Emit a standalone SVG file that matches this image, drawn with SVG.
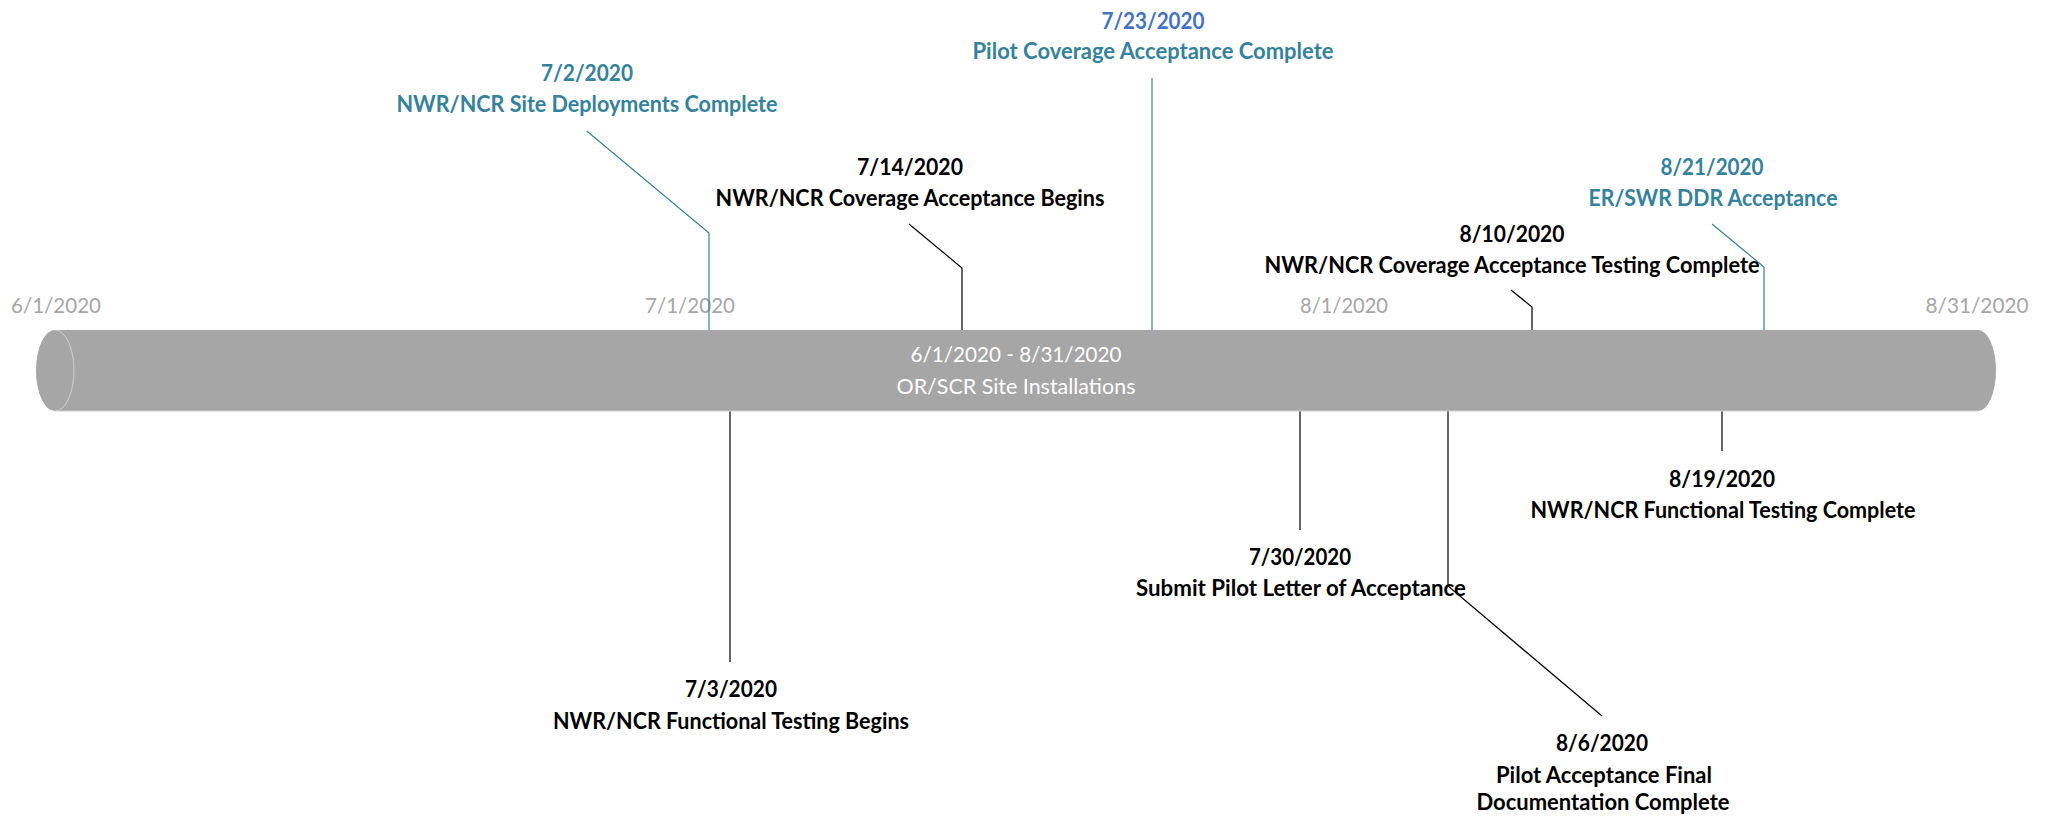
<svg xmlns="http://www.w3.org/2000/svg" width="2046" height="816" viewBox="0 0 2046 816">
<style>
  text { font-family: Lato, "Liberation Sans", sans-serif; text-anchor: middle; }
  .lbl { font-size: 22px; font-weight: bold; fill: #000000; }
  .teal { fill: #34829C; }
  .blue { fill: #4472C4; }
  .axis { font-size: 21.5px; fill: #A6A6A6; }
  .bar { font-size: 21.5px; fill: #FFFFFF; }
  .c { fill: none; stroke-width: 1.2; }
  .k { stroke: #000000; }
  .t { stroke: #34829C; }
  .b { stroke: #4472C4; }
</style>
<rect x="0" y="0" width="2046" height="816" fill="#FFFFFF"/>

<g id="axis-labels">
  <text class="axis" x="56" y="313" textLength="90" lengthAdjust="spacingAndGlyphs">6/1/2020</text>
  <text class="axis" x="690" y="313" textLength="90" lengthAdjust="spacingAndGlyphs">7/1/2020</text>
  <text class="axis" x="1344" y="313" textLength="88" lengthAdjust="spacingAndGlyphs">8/1/2020</text>
  <text class="axis" x="1977" y="313" textLength="103" lengthAdjust="spacingAndGlyphs">8/31/2020</text>
</g>

<g id="connectors">
  <path class="c t" d="M586.7,131 L709,233 L709,370"/>
  <path class="c b" d="M1152,78 L1152,370"/>
  <path class="c k" d="M909,224 L962,268 L962,370"/>
  <path class="c t" d="M1712,224 L1764,267 L1764,370"/>
  <path class="c k" d="M1511,290 L1532,307 L1532,370"/>
  <path class="c k" d="M730,370 L730,662"/>
  <path class="c k" d="M1300,370 L1300,530"/>
  <path class="c k" d="M1448,370 L1448,586 L1602,716"/>
  <path class="c k" d="M1722,370 L1722,451"/>
</g>

<g id="bar">
  <path d="M55,330 L1978,330 A18,40.5 0 0 1 1978,411 L55,411 A19,40.5 0 0 1 55,330 Z" fill="#A6A6A6"/>
  <line x1="55" y1="411" x2="1978" y2="411" stroke="#CFCFCF" stroke-width="1"/>
  <path d="M55,330 A19,40.5 0 0 1 55,411" fill="none" stroke="#D6D6D6" stroke-width="0.8"/>
  <text class="bar" x="1016" y="362" textLength="211" lengthAdjust="spacingAndGlyphs">6/1/2020 - 8/31/2020</text>
  <text class="bar" x="1016" y="394" textLength="239" lengthAdjust="spacingAndGlyphs">OR/SCR Site Installations</text>
</g>

<g id="m-0702">
  <text class="lbl teal" x="587" y="81" textLength="92" lengthAdjust="spacingAndGlyphs">7/2/2020</text>
  <text class="lbl teal" x="587" y="112" textLength="381" lengthAdjust="spacingAndGlyphs">NWR/NCR Site Deployments Complete</text>
</g>
<g id="m-0723">
  <text class="lbl blue" x="1153" y="29" textLength="103" lengthAdjust="spacingAndGlyphs">7/23/2020</text>
  <text class="lbl teal" x="1153" y="59" textLength="361" lengthAdjust="spacingAndGlyphs">Pilot Coverage Acceptance Complete</text>
</g>
<g id="m-0714">
  <text class="lbl" x="910" y="175" textLength="106" lengthAdjust="spacingAndGlyphs">7/14/2020</text>
  <text class="lbl" x="910" y="206" textLength="389" lengthAdjust="spacingAndGlyphs">NWR/NCR Coverage Acceptance Begins</text>
</g>
<g id="m-0821">
  <text class="lbl teal" x="1712" y="175" textLength="103" lengthAdjust="spacingAndGlyphs">8/21/2020</text>
  <text class="lbl teal" x="1713" y="206" textLength="249" lengthAdjust="spacingAndGlyphs">ER/SWR DDR Acceptance</text>
</g>
<g id="m-0810">
  <text class="lbl" x="1512" y="242" textLength="105" lengthAdjust="spacingAndGlyphs">8/10/2020</text>
  <text class="lbl" x="1512" y="273" textLength="495" lengthAdjust="spacingAndGlyphs">NWR/NCR Coverage Acceptance Testing Complete</text>
</g>
<g id="m-0703">
  <text class="lbl" x="731" y="697" textLength="92" lengthAdjust="spacingAndGlyphs">7/3/2020</text>
  <text class="lbl" x="731" y="729" textLength="356" lengthAdjust="spacingAndGlyphs">NWR/NCR Functional Testing Begins</text>
</g>
<g id="m-0730">
  <text class="lbl" x="1300" y="565" textLength="102" lengthAdjust="spacingAndGlyphs">7/30/2020</text>
  <text class="lbl" x="1301" y="596" textLength="330" lengthAdjust="spacingAndGlyphs">Submit Pilot Letter of Acceptance</text>
</g>
<g id="m-0806">
  <text class="lbl" x="1602" y="751" textLength="92" lengthAdjust="spacingAndGlyphs">8/6/2020</text>
  <text class="lbl" x="1604" y="783" textLength="216" lengthAdjust="spacingAndGlyphs">Pilot Acceptance Final</text>
  <text class="lbl" x="1603" y="810" textLength="253" lengthAdjust="spacingAndGlyphs">Documentation Complete</text>
</g>
<g id="m-0819">
  <text class="lbl" x="1722" y="487" textLength="106" lengthAdjust="spacingAndGlyphs">8/19/2020</text>
  <text class="lbl" x="1723" y="518" textLength="385" lengthAdjust="spacingAndGlyphs">NWR/NCR Functional Testing Complete</text>
</g>
</svg>
